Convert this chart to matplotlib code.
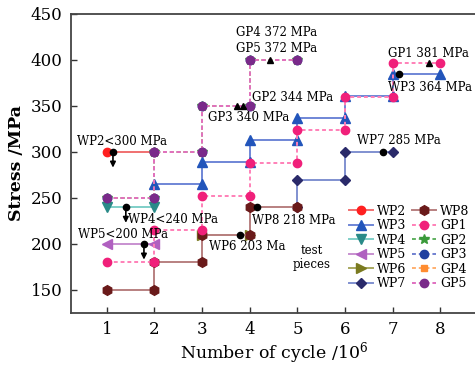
import numpy as np
from matplotlib import pyplot as plt

######################
# data

wp2_x = [1, 2]
wp2_y = [300, 300]
wp3_x = [2, 3, 3, 4, 4, 5, 5, 6, 6, 7, 7, 8]
wp3_y = [265, 265, 289, 289, 313, 313, 337, 337, 361, 361, 385, 385]
wp4_x = [1, 2]
wp4_y = [240, 240]
wp5_x = [1, 2]
wp5_y = [200, 200]
wp6_x = [3, 4]
wp6_y = [210, 210]
wp7_x = [5, 5, 6, 6, 7]
wp7_y = [240, 270, 270, 300, 300]
wp8_x = [1, 2, 2, 3, 3, 4, 4, 5]
wp8_y = [150, 150, 180, 180, 210, 210, 240, 240]

gp1_x = [1, 2, 2, 3, 3, 4, 4, 5, 5, 6, 6, 7, 7, 8]
gp1_y = [180, 180, 215, 215, 252, 252, 288, 288, 324, 324, 360, 360, 397, 397]
gp_x = [1, 2, 2, 3, 3, 4, 4, 5]          # GP2..GP5 share one staircase
gp_y = [250, 250, 300, 300, 350, 350, 400, 400]

# black dots (run-outs / limits) and black triangles
dot_x = [1.13, 1.40, 1.78, 3.80, 4.15, 6.80, 7.13]
dot_y = [300, 240, 200, 210, 240, 300, 385]
tri_x = [3.73, 3.86, 4.42, 7.75]
tri_y = [350, 350, 400, 397]
arrow_x = [1.13, 1.40, 1.78]
arrow_y = [300, 240, 200]

labels = ['WP2<300 MPa', 'GP4 372 MPa', 'GP5 372 MPa', 'GP2 344 MPa', 'GP3 340 MPa',
          'GP1 381 MPa', 'WP3 364 MPa', 'WP7 285 MPa', 'WP4<240 MPa', 'WP5<200 MPa',
          'WP8 218 MPa', 'WP6 203 Ma']
label_x = [0.37, 3.71, 3.71, 4.05, 3.12, 6.90, 6.90, 6.25, 1.44, 0.39, 4.05, 3.15]
label_y = [311, 430, 413, 359, 338, 407, 370, 312, 227, 210, 226, 197]
######################

plt.rcParams['font.family'] = 'DejaVu Serif'
plt.rcParams['mathtext.fontset'] = 'dejavuserif'

fig = plt.figure(figsize=(4.75, 3.68), dpi=100)
ax = fig.add_axes([0.1495, 0.1495, 0.853, 0.8125])

ms = 6
solid = dict(ls='-', lw=1.4)
dash = dict(ls=(0, (2, 1.5)), lw=1.4)

# WP series (solid)
ax.plot(wp2_x, wp2_y, color='#f07070', marker='o', mfc='#ff2020', mec='#ff2020', ms=ms, label='WP2', **solid)
ax.plot(wp3_x, wp3_y, color='#6f86d6', marker='^', mfc='#2255bb', mec='#2255bb', ms=ms+1, label='WP3', **solid)
ax.plot(wp4_x, wp4_y, color='#7fcfc8', marker='v', mfc='#2a8a88', mec='#2a8a88', ms=ms+1, label='WP4', **solid)
ax.plot(wp5_x, wp5_y, color='#c890d0', marker='<', mfc='#b060c0', mec='#b060c0', ms=ms+1, label='WP5', **solid)
ax.plot(wp6_x, wp6_y, color='#a8a860', marker='>', mfc='#7a7a20', mec='#7a7a20', ms=ms+1, label='WP6', **solid)
ax.plot(wp7_x, wp7_y, color='#8090d0', marker='D', mfc='#2a2a6a', mec='#2a2a6a', ms=ms-1, label='WP7', **solid)
ax.plot(wp8_x, wp8_y, color='#b88080', marker='h', mfc='#6a1a1a', mec='#6a1a1a', ms=ms+1, label='WP8', **solid)

# GP series (dashed)
ax.plot(gp1_x, gp1_y, color='#ff80b8', marker='o', mfc='#f0207a', mec='#f0207a', ms=ms, label='GP1', **dash)
ax.plot(gp_x, gp_y, color='#60b060', marker='*', mfc='#3a9a3a', mec='#3a9a3a', ms=ms+1, label='GP2', **dash)
ax.plot(gp_x, gp_y, color='#7080d0', marker='o', mfc='#2040a0', mec='#2040a0', ms=ms, label='GP3', **dash)
ax.plot(gp_x, gp_y, color='#ffb070', marker='s', mfc='#ff8c30', mec='#ff8c30', ms=ms-1, label='GP4', **dash)
ax.plot(gp_x, gp_y, color='#e070c0', marker='o', mfc='#7a2a8a', mec='#7a2a8a', ms=ms, label='GP5', **dash)

ax.plot(dot_x, dot_y, 'o', color='black', ms=4.5, zorder=5)
ax.plot(tri_x, tri_y, '^', color='black', ms=5, zorder=5)
for xa, ya in zip(arrow_x, arrow_y):
    ax.annotate('', xy=(xa, ya - 17), xytext=(xa, ya - 2),
                arrowprops=dict(arrowstyle='-|>', color='black', lw=1.2,
                                mutation_scale=8, shrinkA=0, shrinkB=0), zorder=6)

for t, xt, yt in zip(labels, label_x, label_y):
    ax.text(xt, yt, t, fontsize=8.5, ha='left', va='center')
ax.text(5.3, 185, 'test\npieces', fontsize=8.5, ha='center', va='center', linespacing=1.1)

ax.set_xlim(0.25, 8.75)
ax.set_ylim(125, 450)
ax.set_xticks(range(1, 9))
ax.set_yticks(range(150, 451, 50))
ax.tick_params(direction='in', length=4.5, width=1.0, labelsize=12, colors='#333333',
               labelcolor='black', pad=6)
for s in ['left', 'bottom', 'top']:
    ax.spines[s].set_linewidth(1.3)
    ax.spines[s].set_color('#444444')
ax.spines['right'].set_visible(False)

ax.set_xlabel('Number of cycle /10$^6$', fontsize=12.5, labelpad=1)
ax.set_ylabel('Stress /MPa', fontsize=12.5, fontweight='bold', labelpad=4)

ax.legend(ncol=2, loc='lower right', bbox_to_anchor=(0.995, 0.06), frameon=False,
          fontsize=9, handlelength=1.9, handletextpad=0.3, columnspacing=0.5,
          labelspacing=0.12, borderaxespad=0)

fig.savefig('out.png', dpi=100)
